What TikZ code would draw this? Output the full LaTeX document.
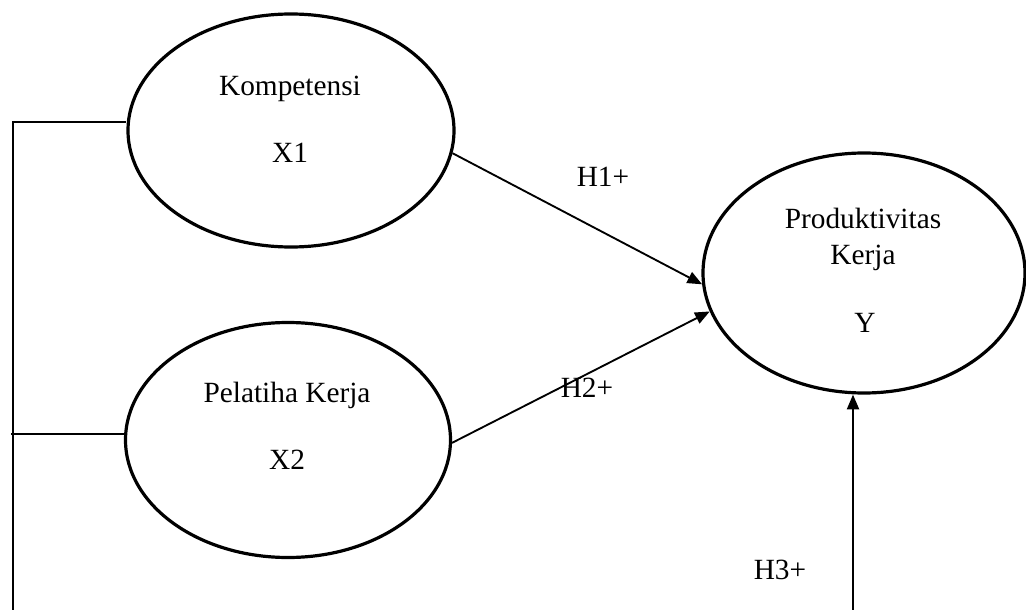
\documentclass[tikz,border=0pt]{standalone}
\usepackage{fontspec}
\setmainfont{Liberation Serif}
\usetikzlibrary{arrows.meta,shapes.geometric}

\begin{document}
\begin{tikzpicture}[
 x=0.75pt,y=-0.75pt,
 latent/.style={draw,ellipse,line width=2.4pt,inner sep=0pt},
 txt/.style={font=\fontsize{22}{26}\selectfont,inner sep=0pt},
 link/.style={line width=1.1pt},
 arrow/.style={-{Triangle[length=11pt,width=9pt]},line width=1.4pt}
]
\useasboundingbox (0,0) rectangle (1026,610);
\node[latent,minimum width=326*0.75pt,minimum height=233*0.75pt] (komp) at (291,130.5) {};
\node[latent,minimum width=325*0.75pt,minimum height=235*0.75pt] (pel) at (288,440) {};
\node[latent,minimum width=322*0.75pt,minimum height=240*0.75pt] (prod) at (864,273) {};
\node[txt] at (290,89) {Kompetensi};
\node[txt] at (290,153) {X1};
\node[txt] at (287,395) {Pelatiha Kerja};
\node[txt] at (287,460) {X2};
\node[txt] at (863,218) {Produktivitas};
\node[txt] at (863,258) {Kerja};
\node[txt] at (865,323) {Y};
\coordinate (top1) at (13,122);
\coordinate (top2) at (11,434);
\coordinate (foot) at (13,612);
\coordinate (h3foot) at (853,612);
\draw[link] (foot) |- (komp.west |- top1);
\draw[link] (top2) -- (top2 -| pel.west);
\draw[arrow] (komp.-8.6) -- (prod.184);
\draw[arrow] (pel.-1) -- (prod.194);
\draw[arrow] (h3foot) -- (h3foot |- prod.south);
\node[txt] at (603,177) {H1+};
\node[txt] at (587,388) {H2+};
\node[txt] at (780,570) {H3+};
\end{tikzpicture}
\end{document}
